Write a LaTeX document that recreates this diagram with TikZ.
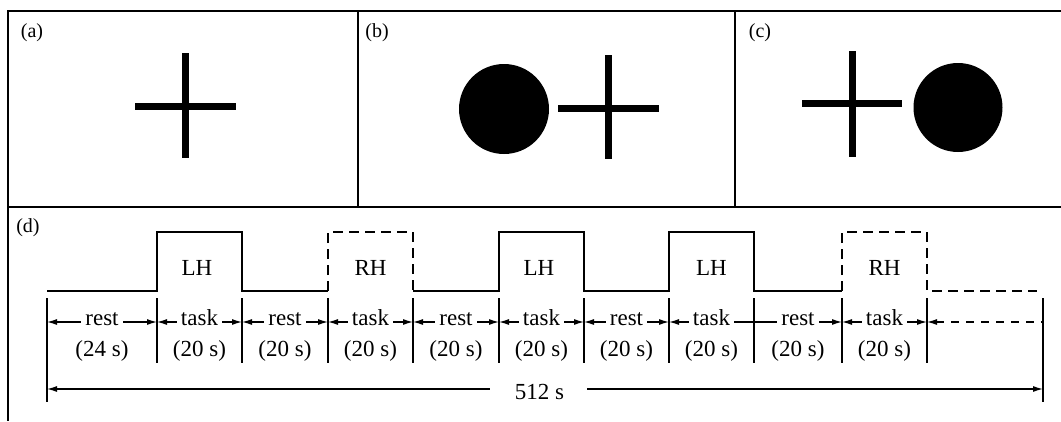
\documentclass[tikz,border=0pt]{standalone}
\usepackage{fontspec}
\setmainfont{Liberation Serif}
\usetikzlibrary{arrows.meta}
\begin{document}
\begin{tikzpicture}[x=1pt,y=-1pt,
  frame/.style={line width=1.6pt},
  bar/.style={line width=7pt},
  sig/.style={line width=1.6pt},
  sigdash/.style={sig, dash pattern=on 10pt off 6pt},
  ticks/.style={line width=1.3pt},
  dim/.style={line width=1.2pt},
  tipl/.style={dim,{Latex[length=10pt,width=6pt]}-},
  tipr/.style={dim,-{Latex[length=10pt,width=6pt]}},
  tipb/.style={dim,{Latex[length=10pt,width=6pt]}-{Latex[length=10pt,width=6pt]}},
  seglbl/.style={fill=white, inner xsep=4pt, inner ysep=0pt, text height=1.4ex, text depth=0pt, font=\fontsize{23}{27}\selectfont},
  durlbl/.style={anchor=base, inner sep=0pt, font=\fontsize{23}{27}\selectfont},
  panellbl/.style={inner sep=0pt, font=\fontsize{20}{24}\selectfont},
]
\useasboundingbox (0,0) rectangle (1061,421);

% ---- frame ----
\draw[frame] (1061,11) -- (8,11) -- (8,421);
\draw[frame] (8,207) -- (1061,207);
\draw[frame] (358,11) -- (358,207);
\draw[frame] (735,11) -- (735,207);

% ---- panel labels ----
\node[panellbl] (la) at (32,33) {(a)};
\node[panellbl] (lb) at (377,33) {(b)};
\node[panellbl] (lc) at (760,33) {(c)};
\node[panellbl] (ld) at (28,228) {(d)};

% ---- stimuli ----
\draw[bar] (135,106) -- (236,106);
\draw[bar] (185,53) -- (185,158);
\fill (504,109) circle (45);
\draw[bar] (558,108) -- (659,108);
\draw[bar] (608,55) -- (608,159);
\draw[bar] (802,103) -- (902,103);
\draw[bar] (852,51) -- (852,157);
\fill (958,107.5) circle (44.5);

% ---- waveform ----
\draw[sig] (47,291) -- (157,291) -- (157,232) -- (242,232) -- (242,291) -- (328,291);
\draw[sigdash] (328,291) -- (328,232) -- (413,232) -- (413,291);
\draw[sig] (413,291) -- (499,291) -- (499,232) -- (584,232) -- (584,291) -- (669,291)
  -- (669,232) -- (754,232) -- (754,291) -- (842,291);
\draw[sigdash] (842,291) -- (842,232) -- (927,232) -- (927,291) -- (1037,291);

\foreach \x/\t [count=\i] in {197/LH,370.5/RH,539/LH,711.5/LH,884.5/RH}
  \node[durlbl] (hand\i) at (\x,275) {\t};

% ---- ticks ----
\foreach \x [count=\i] in {157,242,328,413,499,584,669,754,842,927}
  \draw[ticks] (\x,298) -- (\x,363);
\draw[ticks] (47,298) -- (47,402);
\draw[ticks] (1043,298) -- (1043,402);

% ---- segment arrows ----
\foreach \x [count=\i from 0] in {47,157,242,328,413,499,584,669,754,842,927,1043}
  \coordinate (k\i) at (\x,322);

\draw[tipb] (k0) -- (k1) node[midway,seglbl] (s1) {rest};
\draw[tipb] (k1) -- (k2) node[midway,seglbl] (s2) {task};
\draw[tipb] (k2) -- (k3) node[midway,seglbl] (s3) {rest};
\draw[tipb] (k3) -- (k4) node[midway,seglbl] (s4) {task};
\draw[tipb] (k4) -- (k5) node[midway,seglbl] (s5) {rest};
\draw[tipb] (k5) -- (k6) node[midway,seglbl] (s6) {task};
\draw[tipb] (k6) -- (k7) node[midway,seglbl] (s7) {rest};
\draw[tipl] (k7) -- (k8) node[midway,seglbl] (s8) {task};
\draw[tipr] (k8) -- (k9) node[midway,seglbl] (s9) {rest};
\draw[tipb] (k9) -- (k10) node[midway,seglbl] (s10) {task};
\draw[tipl, dash pattern=on 8pt off 7pt] (k10) -- (k11);

\foreach \x/\t [count=\i] in {102/(24 s),199.5/(20 s),285/(20 s),370.5/(20 s),456/(20 s),541.5/(20 s),626.5/(20 s),711.5/(20 s),798/(20 s),884.5/(20 s)}
  \node[durlbl] (d\i) at (\x,356) {\t};

% ---- total ----
\coordinate (L0) at (47,389);
\coordinate (L1) at (1043,389);
\coordinate (g1) at (490,389);
\coordinate (g2) at (587,389);
\node[durlbl] (tot) at (539.5,399) {512 s};
\draw[tipl] (L0) -- (g1);
\draw[tipr] (g2) -- (L1);
\end{tikzpicture}
\end{document}
